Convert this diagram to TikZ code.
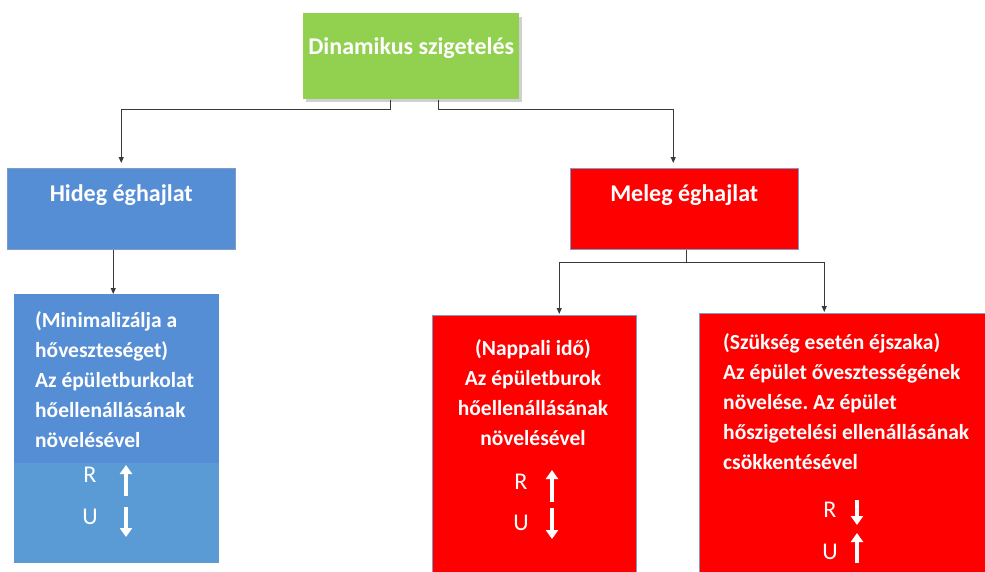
\documentclass[tikz,border=0pt]{standalone}
\usepackage{fontspec}
\setmainfont{Carlito}
\frenchspacing
\usetikzlibrary{arrows.meta, positioning, calc}
\definecolor{rootFill}{HTML}{92D050}
\definecolor{rootShade}{HTML}{D0D0D0}
\definecolor{coldFill}{HTML}{558ED5}
\definecolor{coldLow}{HTML}{5B9BD5}
\definecolor{warmFill}{HTML}{FF0000}
\definecolor{boxEdge}{HTML}{7F9CC8}
\definecolor{linkGray}{HTML}{3A3A3A}

\begin{document}
\begin{tikzpicture}[
    x=1pt, y=-1pt,
    % Box Styles
    box/.style={
        rectangle,
        anchor=north west,
        inner sep=0pt,
        draw=boxEdge,
        line width=0.5pt
    },
    root/.style={box, draw=none, fill=rootFill},
    cold/.style={box, fill=coldFill},
    warm/.style={box, fill=warmFill},
    % Text Styles
    head/.style={font=\fontsize{24}{28}\selectfont\bfseries, text=white, inner sep=0pt},
    body/.style={font=\fontsize{21.5}{29.8}\selectfont\bfseries, text=white, inner sep=0pt},
    sym/.style={font=\fontsize{24}{26}\selectfont, text=white, inner sep=0pt},
    % Arrow Styles
    link/.style={draw=linkGray, line width=1pt},
    arrow/.style={link, -{Triangle[length=6pt, width=5pt]}},
    updown/.style={white, line width=4pt, -{Triangle[length=9pt, width=12pt]}}
]
    \useasboundingbox (0,0) rectangle (985,571);

    % --- Boxes ---
    \fill[rootShade] (306,17) rectangle (522,102);
    \node[root, minimum width=216pt, minimum height=86pt] (dyn) at (303,13) {};
    \node[cold, minimum width=228pt, minimum height=81pt] (hideg) at (7,168) {};
    \node[warm, minimum width=228pt, minimum height=81pt] (meleg) at (570,168) {};

    % lower boxes
    \node[box, draw=none, fill=coldLow, minimum width=205pt, minimum height=269pt] (coldsub) at (14,294) {};
    \node[box, draw=none, fill=coldFill, minimum width=205pt, minimum height=169pt] (coldtop) at (14,294) {};
    \node[warm, minimum width=204pt, minimum height=262pt] (day) at (432,315) {};
    \node[warm, minimum width=290pt, minimum height=264pt] (night) at (699,313) {};

    % --- Texts ---
    \node[head] (dyntxt) at ([yshift=-35pt]dyn.north) {Dinamikus szigetelés};
    \node[head] (hidegtxt) at ([yshift=-27pt]hideg.north) {Hideg éghajlat};
    \node[head] (melegtxt) at ([yshift=-27pt]meleg.north) {Meleg éghajlat};

    % anchored at the baseline of the last line
    \node[body, align=left, anchor=base west] (coldtxt) at (35,447)
        {(Minimalizálja a\\hőveszteséget)\\Az épületburkolat\\hőellenállásának\\növelésével};
    \node[body, align=center, anchor=base] (daytxt) at (533,445)
        {(Nappali idő)\\Az épületburok\\hőellenállásának\\növelésével};
    \node[body, align=left, anchor=base west] (nighttxt) at (723,469)
        {(Szükség esetén éjszaka)\\Az épület ővesztességének\\növelése. Az épület\\hőszigetelési ellenállásának\\csökkentésével};

    % R / U marks
    \node[sym] (coldR) at (90,475) {R};
    \node[sym] (coldU) at (90,517) {U};
    \node[sym] (dayR) at (521,482) {R};
    \node[sym] (dayU) at (521,523) {U};
    \node[sym] (nightR) at (830,510) {R};
    \node[sym] (nightU) at (830,552) {U};

    \draw[updown] ([xshift=36pt, yshift=-21pt]coldR.center) -- ++(0,-31);
    \draw[updown] ([xshift=36pt, yshift=10pt]coldU.center) -- ++(0,30);
    \draw[updown] ([xshift=31pt, yshift=-20pt]dayR.center) -- ++(0,-32);
    \draw[updown] ([xshift=31pt, yshift=15pt]dayU.center) -- ++(0,31);
    \draw[updown] ([xshift=27pt, yshift=10pt]nightR.center) -- ++(0,25);
    \draw[updown] ([xshift=27pt, yshift=-11pt]nightU.center) -- ++(0,-30);

    % --- Connectors ---
    \draw[arrow, shorten >=5pt] ([xshift=-21pt]dyn.south) -- ++(0,10) -| (hideg.north);
    \draw[arrow, shorten >=5pt] ([xshift=27pt]dyn.south) -- ++(0,10) -| ([xshift=-11pt]meleg.north);

    \coordinate (coldjoin) at ([xshift=-3.5pt]coldtop.north);
    \draw[arrow] (coldjoin |- hideg.south) -- (coldjoin);

    \draw[link] ([xshift=2pt]meleg.south) -- ++(0,13) coordinate (warmbar);
    \draw[arrow, shorten >=1pt] (warmbar) -| ([xshift=25pt]day.north);
    \draw[arrow, shorten >=1pt] (warmbar) -| ([xshift=-20pt]night.north);

\end{tikzpicture}
\end{document}
